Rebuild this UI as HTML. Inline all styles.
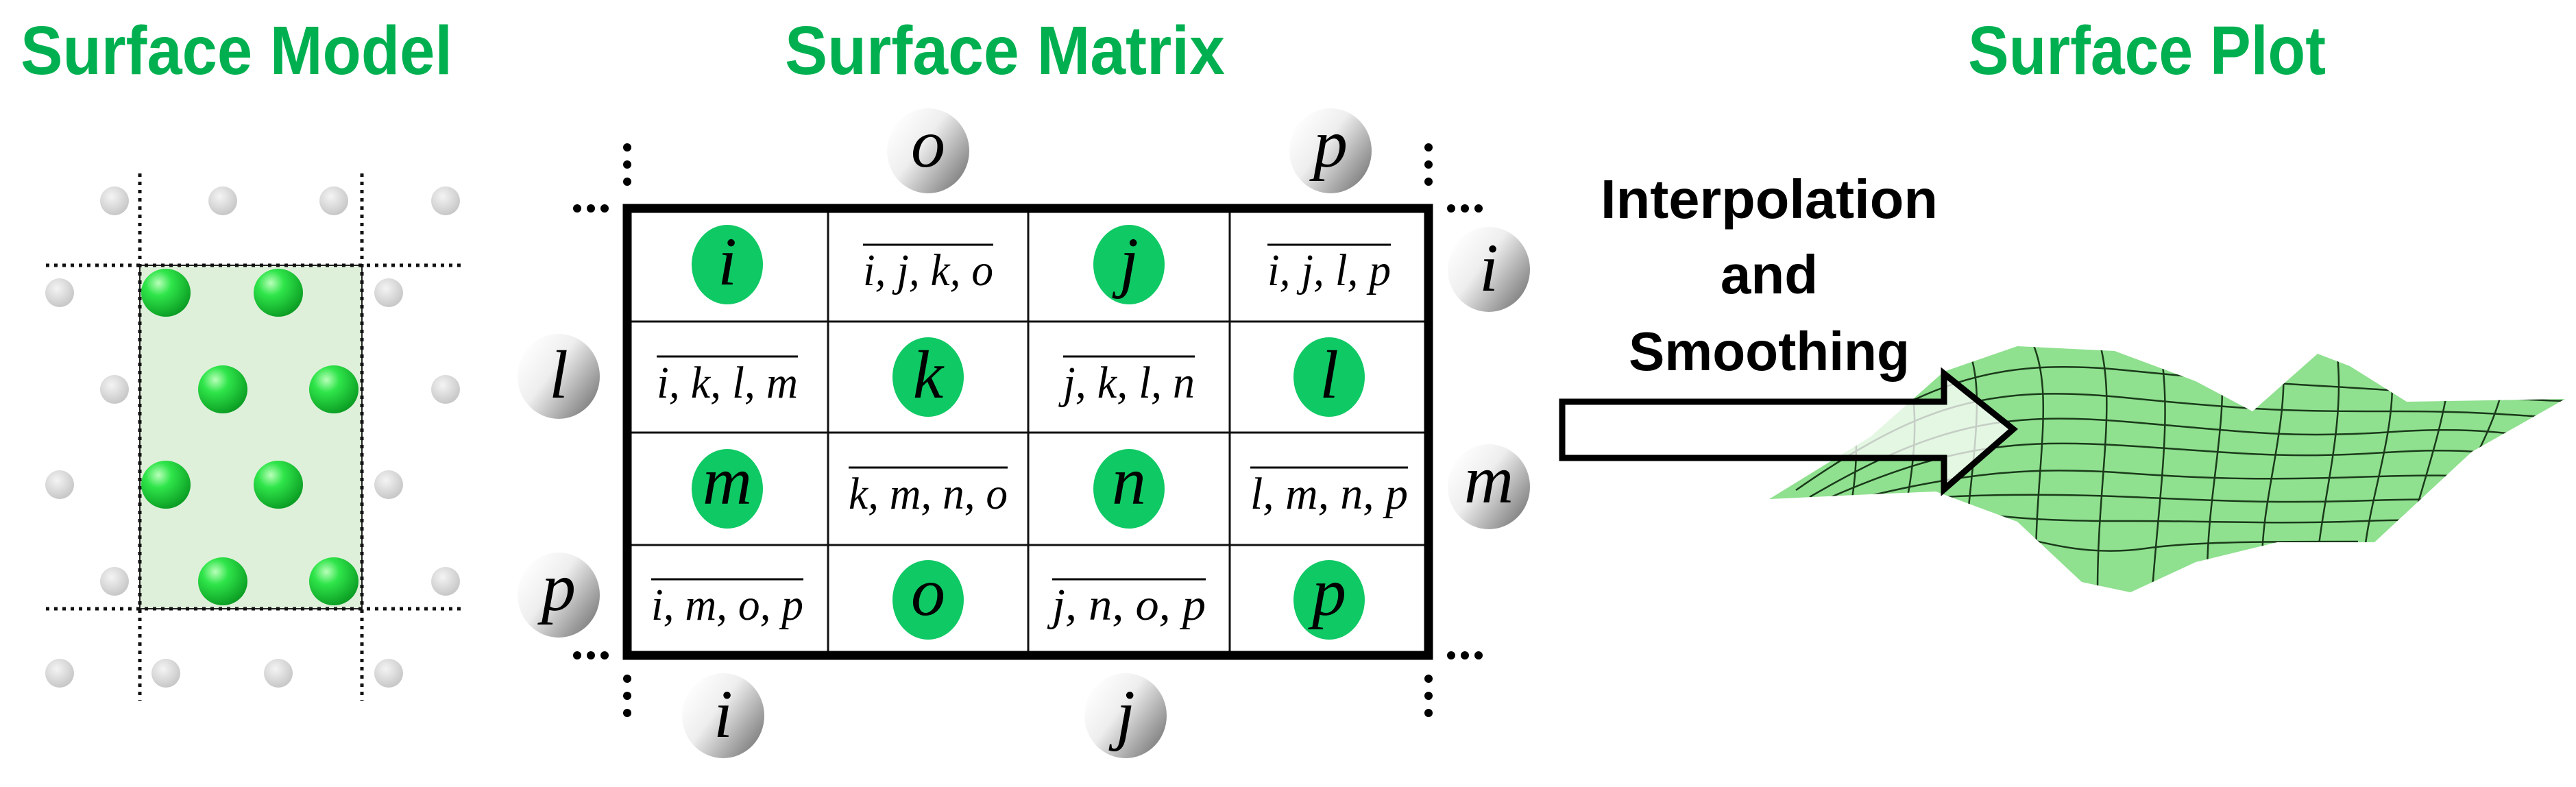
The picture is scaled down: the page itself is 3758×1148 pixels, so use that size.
<!DOCTYPE html>
<html><head><meta charset="utf-8"><style>
html,body{margin:0;padding:0;background:#fff;}
svg{display:block;}
</style></head><body>
<svg width="3758" height="1148" viewBox="0 0 3758 1148" xmlns="http://www.w3.org/2000/svg">
<defs>
<radialGradient id="gb" cx="0.35" cy="0.3" r="0.75">
<stop offset="0" stop-color="#b9ffb9"/><stop offset="0.35" stop-color="#2fe54a"/><stop offset="1" stop-color="#0a9a22"/></radialGradient>
<radialGradient id="sb" cx="0.4" cy="0.35" r="0.7">
<stop offset="0" stop-color="#f4f4f4"/><stop offset="1" stop-color="#c4c4c4"/></radialGradient>
<linearGradient id="gc" x1="0.1" y1="0.1" x2="1" y2="0.8">
<stop offset="0" stop-color="#ffffff"/><stop offset="0.4" stop-color="#eeeeee"/><stop offset="1" stop-color="#7a7a7a"/></linearGradient>
<clipPath id="sp"><path d="M2581,728 L2729,637 L2836,542 L2943,505 L3085,512 L3203,556 L3286,600 L3381,516 L3428,534 L3511,586 L3742,582 L3606,659 L3464,791 L3322,791 L3203,820 L3108,864 L3037,849 L2943,761 L2824,717 L2729,721 Z"/></clipPath>
</defs>
<g font-family="'Liberation Sans Narrow','Liberation Sans',sans-serif" font-weight="bold" fill="#00b050" font-size="100" text-anchor="middle">
<text x="345" y="108" textLength="630" lengthAdjust="spacingAndGlyphs">Surface Model</text>
<text x="1466" y="108" textLength="642" lengthAdjust="spacingAndGlyphs">Surface Matrix</text>
<text x="3132" y="108" textLength="522" lengthAdjust="spacingAndGlyphs">Surface Plot</text>
</g>
<!-- Surface model -->
<rect x="204" y="387" width="324" height="501" fill="#dff0da" stroke="#222" stroke-width="2"/>
<g stroke="#111" stroke-width="5" stroke-dasharray="5,7">
<line x1="204" y1="253" x2="204" y2="1022"/><line x1="528" y1="253" x2="528" y2="1022"/>
<line x1="67" y1="387" x2="679" y2="387"/><line x1="67" y1="888" x2="679" y2="888"/>
</g>
<g fill="url(#sb)">
<circle cx="167" cy="293" r="21"/><circle cx="325" cy="293" r="21"/><circle cx="487" cy="293" r="21"/><circle cx="650" cy="293" r="21"/>
<circle cx="87" cy="427" r="21"/><circle cx="567" cy="427" r="21"/>
<circle cx="167" cy="568" r="21"/><circle cx="650" cy="568" r="21"/>
<circle cx="87" cy="707" r="21"/><circle cx="567" cy="707" r="21"/>
<circle cx="167" cy="848" r="21"/><circle cx="650" cy="848" r="21"/>
<circle cx="87" cy="982" r="21"/><circle cx="242" cy="982" r="21"/><circle cx="406" cy="982" r="21"/><circle cx="567" cy="982" r="21"/>
</g>
<g fill="url(#gb)">
<ellipse cx="242" cy="427" rx="36" ry="35"/><ellipse cx="406" cy="427" rx="36" ry="35"/>
<ellipse cx="325" cy="568" rx="36" ry="35"/><ellipse cx="487" cy="568" rx="36" ry="35"/>
<ellipse cx="242" cy="707" rx="36" ry="35"/><ellipse cx="406" cy="707" rx="36" ry="35"/>
<ellipse cx="325" cy="848" rx="36" ry="35"/><ellipse cx="487" cy="848" rx="36" ry="35"/>
</g>
<!-- Matrix -->
<g stroke="#111" stroke-width="3">
<line x1="1208" y1="304" x2="1208" y2="956"/><line x1="1500" y1="304" x2="1500" y2="956"/><line x1="1794" y1="304" x2="1794" y2="956"/>
<line x1="915" y1="469" x2="2084" y2="469"/><line x1="915" y1="631" x2="2084" y2="631"/><line x1="915" y1="795" x2="2084" y2="795"/>
</g>
<rect x="915" y="304" width="1169" height="652" fill="none" stroke="#000" stroke-width="13"/>
<g fill="#000">
<circle cx="842" cy="304" r="6"/><circle cx="862" cy="304" r="6"/><circle cx="882" cy="304" r="6"/>
<circle cx="915" cy="215" r="6"/><circle cx="915" cy="240" r="6"/><circle cx="915" cy="265" r="6"/>
<circle cx="842" cy="956" r="6"/><circle cx="862" cy="956" r="6"/><circle cx="882" cy="956" r="6"/>
<circle cx="915" cy="990" r="6"/><circle cx="915" cy="1015" r="6"/><circle cx="915" cy="1040" r="6"/>
<circle cx="2117" cy="304" r="6"/><circle cx="2137" cy="304" r="6"/><circle cx="2157" cy="304" r="6"/>
<circle cx="2084" cy="215" r="6"/><circle cx="2084" cy="240" r="6"/><circle cx="2084" cy="265" r="6"/>
<circle cx="2117" cy="956" r="6"/><circle cx="2137" cy="956" r="6"/><circle cx="2157" cy="956" r="6"/>
<circle cx="2084" cy="990" r="6"/><circle cx="2084" cy="1015" r="6"/><circle cx="2084" cy="1040" r="6"/>
</g>
<g fill="#0fc964">
<ellipse cx="1061" cy="386" rx="52" ry="58"/><ellipse cx="1647" cy="386" rx="52" ry="58"/>
<ellipse cx="1354" cy="550" rx="52" ry="58"/><ellipse cx="1939" cy="550" rx="52" ry="58"/>
<ellipse cx="1061" cy="713" rx="52" ry="58"/><ellipse cx="1647" cy="713" rx="52" ry="58"/>
<ellipse cx="1354" cy="875" rx="52" ry="58"/><ellipse cx="1939" cy="875" rx="52" ry="58"/>
</g>
<g fill="url(#gc)">
<ellipse cx="1354" cy="220" rx="60" ry="62"/><ellipse cx="1941" cy="220" rx="60" ry="62"/>
<ellipse cx="815" cy="549" rx="60" ry="62"/><ellipse cx="815" cy="868" rx="60" ry="62"/>
<ellipse cx="1055" cy="1044" rx="60" ry="62"/><ellipse cx="1642" cy="1044" rx="60" ry="62"/>
<ellipse cx="2172" cy="393" rx="60" ry="62"/><ellipse cx="2172" cy="710" rx="60" ry="62"/>
</g>
<g font-family="'Liberation Serif',serif" font-style="italic" font-size="100" fill="#000" text-anchor="middle">
<text x="1061" y="415">i</text><text x="1647" y="415">j</text>
<text x="1354" y="580">k</text><text x="1939" y="580">l</text>
<text x="1061" y="735">m</text><text x="1647" y="735">n</text>
<text x="1354" y="897">o</text><text x="1939" y="897">p</text>
<text x="1354" y="243">o</text><text x="1941" y="243">p</text>
<text x="815" y="580">l</text><text x="815" y="890">p</text>
<text x="1055" y="1075">i</text><text x="1642" y="1075">j</text>
<text x="2172" y="424">i</text><text x="2172" y="733">m</text>
</g>
<g font-family="'Liberation Serif',serif" font-style="italic" font-size="66" fill="#000" text-anchor="middle" lengthAdjust="spacingAndGlyphs">
<text x="1354" y="416" textLength="190" lengthAdjust="spacingAndGlyphs">i, j, k, o</text><text x="1939" y="416" textLength="180" lengthAdjust="spacingAndGlyphs">i, j, l, p</text>
<text x="1061" y="580" textLength="206" lengthAdjust="spacingAndGlyphs">i, k, l, m</text><text x="1647" y="580" textLength="192" lengthAdjust="spacingAndGlyphs">j, k, l, n</text>
<text x="1354" y="742" textLength="232" lengthAdjust="spacingAndGlyphs">k, m, n, o</text><text x="1939" y="742" textLength="230" lengthAdjust="spacingAndGlyphs">l, m, n, p</text>
<text x="1061" y="904" textLength="222" lengthAdjust="spacingAndGlyphs">i, m, o, p</text><text x="1647" y="904" textLength="224" lengthAdjust="spacingAndGlyphs">j, n, o, p</text>
</g>
<g stroke="#000" stroke-width="3">
<line x1="1259" y1="357" x2="1449" y2="357"/><line x1="1849" y1="357" x2="2029" y2="357"/>
<line x1="958" y1="520" x2="1164" y2="520"/><line x1="1551" y1="520" x2="1743" y2="520"/>
<line x1="1238" y1="682" x2="1470" y2="682"/><line x1="1824" y1="682" x2="2054" y2="682"/>
<line x1="950" y1="845" x2="1172" y2="845"/><line x1="1535" y1="845" x2="1759" y2="845"/>
</g>
<!-- Text -->
<g font-family="'Liberation Sans Narrow','Liberation Sans',sans-serif" font-weight="bold" font-size="80" fill="#000" text-anchor="middle">
<text x="2581" y="318" textLength="492" lengthAdjust="spacingAndGlyphs">Interpolation</text>
<text x="2581" y="428">and</text>
<text x="2581" y="540" textLength="410" lengthAdjust="spacingAndGlyphs">Smoothing</text>
</g>
<!-- Surface -->
<path d="M2581,728 L2729,637 L2836,542 L2943,505 L3085,512 L3203,556 L3286,600 L3381,516 L3428,534 L3511,586 L3742,582 L3606,659 L3464,791 L3322,791 L3203,820 L3108,864 L3037,849 L2943,761 L2824,717 L2729,721 Z" fill="#8fe08f"/>
<g clip-path="url(#sp)" fill="none" stroke="#1a3a1a" stroke-width="2.5">
<path d="M2600,700 C2800,560 2900,520 3100,540 S3350,560 3500,570 3700,585 3760,585"/>
<path d="M2620,715 C2800,590 2900,560 3100,580 S3350,600 3500,600 3700,610 3760,610"/>
<path d="M2640,725 C2820,620 2920,600 3100,615 S3340,640 3490,630 3680,640 3760,640"/>
<path d="M2660,730 C2840,650 2940,640 3100,650 S3330,670 3480,660 3660,670 3760,670"/>
<path d="M2700,730 C2860,690 2960,680 3100,690 S3320,700 3470,695 3640,700 3760,700"/>
<path d="M2760,730 C2880,720 2990,720 3110,725 S3320,735 3460,730 3620,735 3760,735"/>
<path d="M2820,740 C2940,760 3020,760 3120,760 S3320,765 3450,760 3600,765 3760,765"/>
<path d="M2900,770 C3000,800 3060,810 3130,800 S3300,790 3440,790"/>
<path d="M2660,520 C2700,540 2720,620 2700,740"/><path d="M2760,500 C2800,540 2800,640 2780,740"/>
<path d="M2860,490 C2900,540 2880,650 2870,760"/><path d="M2960,490 C3000,560 2970,680 2970,820"/>
<path d="M3060,490 C3090,580 3060,700 3060,860"/><path d="M3150,500 C3170,600 3150,720 3140,860"/>
<path d="M3240,520 C3250,620 3220,720 3220,840"/><path d="M3330,510 C3340,620 3300,720 3300,820"/>
<path d="M3410,520 C3420,620 3390,720 3380,820"/><path d="M3490,560 C3490,640 3460,720 3450,800"/>
<path d="M3570,570 C3560,630 3540,690 3520,760"/><path d="M3650,570 C3640,610 3620,650 3600,690"/>
</g>
<!-- Arrow -->
<path d="M2279,586 L2836,586 L2836,545 L2937,626 L2836,714 L2836,668 L2279,668 Z" fill="#fff" fill-opacity="0.75" stroke="#000" stroke-width="9" stroke-linejoin="miter"/>
</svg>
</body></html>
